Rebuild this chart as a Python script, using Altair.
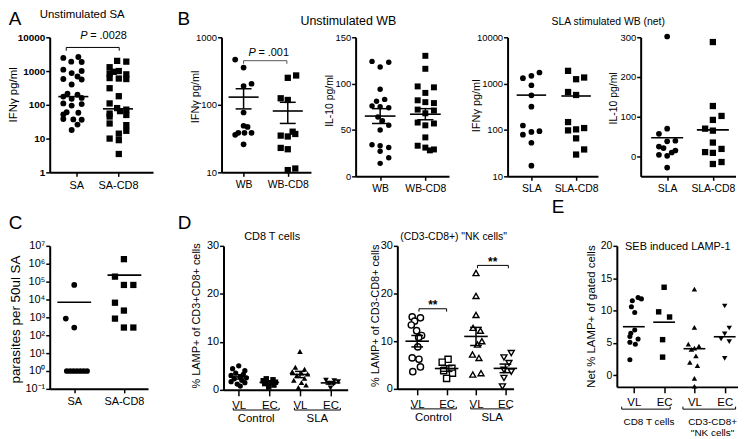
import altair as alt
import pandas as pd

FONT = "Liberation Sans"

# ---------------- values ----------------
# A  Unstimulated SA : IFN-gamma pg/ml (median lines)
A_CATS = ["SA", "SA-CD8"]
A_SA = [2600, 2450, 1900, 1850, 1100, 1000, 870, 690, 580, 560, 400, 215, 200, 175,
        160, 150, 110, 105, 95, 60, 58, 52, 38, 37, 36, 26, 18]
A_SA_DX = [0.12, -0.24, -0.05, 0.2, -0.24, 0.2, -0.04, 0.1, -0.24, 0.2, -0.04, -0.14, 0.1,
           -0.24, 0.2, -0.04, -0.24, 0.2, -0.04, -0.16, 0.12, -0.24, -0.24, 0.0, 0.2, 0.1, -0.04]
A_CD8 = [2000, 1900, 1300, 1000, 950, 850, 800, 620, 600, 580, 310, 180, 110, 80, 72, 65,
         55, 50, 45, 28, 25, 17, 14, 10, 9, 3.5]
A_CD8_DX = [-0.02, 0.2, -0.2, 0.02, -0.1, -0.2, 0.2, -0.2, 0.02, 0.2, -0.2, 0.02, -0.2,
            -0.02, 0.2, 0.05, -0.2, 0.2, -0.2, -0.2, 0.2, 0.2, 0.02, -0.2, 0.02, 0.02]
A_MED = [175, 76]
A_TICKS = [1, 10, 100, 1000, 10000]

# B  Unstimulated WB : IFN-gamma (mean +/- SEM)
B1_CATS = ["WB", "WB-CD8"]
B1_WB = [467, 356, 205, 190, 77, 49, 47, 38.5, 38.5, 38.5, 36, 26]
B1_WB_DX = [-0.19, 0.0, 0.18, 0.0, 0.0, 0.0, 0.09, -0.12, 0.02, 0.18, -0.19, 0.0]
B1_CD8 = [272, 251, 125, 118, 40, 37, 35, 34, 23, 22, 11.4, 10.8]
B1_CD8_DX = [0.19, 0.0, -0.16, 0.0, 0.11, 0.17, -0.16, 0.0, -0.16, 0.0, 0.17, 0.0]
B1_MEAN = [130, 81]
B1_SEM = [43, 28]
B1_TICKS = [10, 100, 1000]

# B  Unstimulated WB : IL-10 (mean +/- SEM)
B2_WB = [124, 123, 118, 94, 83, 81, 76, 75, 74, 64, 60, 55, 50, 34, 33, 31, 27, 20, 14]
B2_WB_DX = [-0.18, 0.19, 0.0, 0.0, 0.1, -0.08, -0.18, 0.0, 0.19, -0.05, 0.05, 0.19, 0.0,
            -0.18, 0.0, 0.19, 0.0, 0.19, 0.0]
B2_CD8 = [130, 116, 97, 96, 90, 82, 80, 79, 72, 71, 68, 58, 57, 55, 42, 33, 31, 29, 28]
B2_CD8_DX = [0.0, 0.0, -0.17, 0.19, 0.0, -0.17, 0.0, 0.19, -0.17, 0.19, 0.0, -0.17, 0.19,
             0.0, 0.0, -0.17, 0.0, 0.19, 0.1]
B2_MEAN = [65, 67]
B2_SEM = [8, 6]
B2_TICKS = [0, 50, 100, 150]

# B  SLA stimulated WB (net)
B3_CATS = ["SLA", "SLA-CD8"]
B3_SLA = [1740, 1470, 1310, 923, 560, 318, 125, 94, 91, 79, 53, 17]
B3_SLA_DX = [0.18, 0.0, -0.19, 0.0, 0.0, 0.0, -0.19, 0.18, 0.0, -0.19, 0.0, 0.0]
B3_CD8 = [1888, 1355, 1245, 660, 569, 148, 110, 103, 98, 66, 38, 29.5]
B3_CD8_DX = [-0.18, 0.18, 0.0, -0.18, 0.0, -0.18, 0.18, 0.0, -0.18, 0.0, 0.18, 0.0]
B3_MEAN = [565, 541]
B3_TICKS = [10, 100, 1000, 10000]

B4_SLA = [302, 70, 57, 39.5, 38, 25, 21, 15, 10, 4, 1.7, -28]
B4_SLA_DX = [0.0, 0.0, -0.18, 0.18, 0.0, -0.18, -0.08, 0.18, 0.1, -0.18, 0.0, 0.0]
B4_CD8 = [288, 127, 102, 92, 70, 65, 35, 19, 11, 9, -14, -19]
B4_CD8_DX = [0.0, 0.0, 0.19, 0.0, -0.17, 0.0, 0.0, 0.19, -0.17, 0.0, 0.19, 0.0]
B4_MEAN = [47, 67]
B4_TICKS = [0, 100, 200, 300]

# C  parasites per 50ul SA
C_CATS = ["SA", "SA-CD8"]
C_SA = [65000, 850, 270, 1, 1, 1, 1, 1, 1, 1]
C_SA_DX = [0.0, -0.17, 0.0, -0.15, -0.082, -0.014, 0.054, 0.122, 0.19, 0.258]
C_CD8 = [1.8e6, 1.9e5, 6.5e4, 6.5e4, 6600, 2400, 850, 270, 270]
C_CD8_DX = [0.0, -0.18, 0.0, 0.19, -0.18, 0.0, -0.18, 0.0, 0.19]
C_MEAN = [7000, 2.3e5]
C_TICKS = [0.1, 1, 10, 100, 1000, 1e4, 1e5, 1e6, 1e7]
C_LABELS = ["10⁻¹", "10⁰", "10¹", "10²", "10³", "10⁴", "10⁵", "10⁶", "10⁷"]

# D  % LAMP+ (mean +/- SEM)
D_CATS = ["VL", "EC", "VL", "EC"]
D_GROUPS = ["Control", "SLA"]
D1_VLC = [5.0, 4.4, 4.0, 3.5, 3.2, 3.0, 2.7, 2.5, 2.3, 2.0, 1.7, 1.5, 1.2, 0.8]
D1_VLC_DX = [0.0, -0.2, 0.2, -0.1, 0.15, -0.25, 0.05, 0.25, -0.15, 0.1, -0.25, 0.2, -0.05, 0.05]
D1_ECC = [2.3, 2.1, 1.9, 1.6, 1.5, 1.3, 1.0, 0.6]
D1_ECC_DX = [-0.1, 0.12, -0.2, 0.2, 0.0, -0.15, 0.15, -0.02]
D1_VLS = [8.0, 4.7, 4.3, 3.8, 3.5, 3.3, 3.0, 2.4, 2.0, 1.5, 1.0, 0.5]
D1_VLS_DX = [0.0, -0.15, 0.15, -0.25, 0.05, 0.25, -0.1, 0.15, -0.2, 0.05, 0.2, -0.05]
D1_ECS = [2.0, 1.9, 1.7, 1.4, 1.2, 0.4]
D1_ECS_DX = [-0.15, 0.12, 0.25, -0.05, 0.1, 0.0]
D1_MEAN = [2.7, 1.55, 3.2, 1.45]
D1_SEM = [0.45, 0.2, 0.65, 0.25]

D2_VLC = [15.1, 14.9, 14.2, 13.4, 12.2, 11.2, 10.8, 8.8, 6.5, 6.2, 4.6, 3.6]
D2_VLC_DX = [-0.17, 0.11, -0.09, -0.2, -0.02, 0.15, 0.05, 0.02, -0.17, 0.06, 0.11, -0.15]
D2_ECC = [6.2, 5.6, 4.3, 3.8, 3.3, 2.2]
D2_ECC_DX = [0.05, -0.15, 0.18, -0.1, 0.2, 0.0]
D2_VLS = [24.3, 19.5, 15.5, 12.8, 12.2, 10.0, 9.3, 7.2, 6.5, 3.3, 3.0]
D2_VLS_DX = [0.0, 0.0, 0.0, -0.1, 0.15, 0.2, 0.05, -0.12, 0.1, 0.17, -0.11]
D2_ECS = [7.5, 6.6, 5.4, 4.0, 3.6, 2.3, 0.5]
D2_ECS_DX = [0.2, -0.05, 0.12, -0.05, 0.2, -0.05, -0.1]
D2_MEAN = [10.0, 4.27, 11.0, 4.3]
D2_SEM = [1.2, 0.6, 1.9, 0.9]
D_TICKS = [0, 10, 20, 30]

# E  SEB induced LAMP-1 (mean lines)
E_CATS = ["VL", "EC", "VL", "EC"]
E_CD8VL = [12.0, 11.8, 11.5, 10.6, 9.7, 7.0, 6.5, 6.0, 5.6, 5.1, 4.8, 2.4]
E_CD8VL_DX = [0.14, 0.25, -0.05, -0.08, 0.03, 0.03, -0.1, -0.13, 0.14, -0.13, 0.05, -0.13]
E_CD8EC = [13.6, 9.8, 9.0, 5.5, 2.8]
E_CD8EC_DX = [0.0, -0.18, 0.18, -0.05, -0.05]
E_NKVL = [13.3, 7.4, 4.8, 4.5, 4.2, 4.0, 3.0, 2.0, 1.5, -0.5, -1.7]
E_NKVL_DX = [0.0, 0.0, -0.2, 0.15, 0.0, -0.1, 0.05, -0.15, 0.1, 0.0, 0.0]
E_NKEC = [10.7, 7.3, 6.4, 5.6, 5.2, 2.6]
E_NKEC_DX = [0.0, 0.15, 0.0, -0.12, 0.15, 0.0]
E_MEAN = [7.5, 8.2, 4.1, 5.95]
E_TICKS = [0, 5, 10, 15, 20]


# ---------------- helpers ----------------
def xs(dom):
    return alt.Scale(domain=dom, nice=False, zero=False)


def ys(dom, log):
    if log:
        return alt.Scale(type="log", domain=dom, nice=False)
    return alt.Scale(domain=dom, nice=False, zero=False)


def xaxis(cats, size, tick=4, pad=3):
    arr = "[''," + ",".join("'" + c + "'" for c in cats) + "]"
    return alt.Axis(values=list(range(1, len(cats) + 1)), labelExpr=arr + "[datum.value]",
                    title=None, labelFontSize=size, labelFlush=False, labelOverlap=False,
                    labelPadding=pad, tickSize=tick, tickWidth=1.5, domainWidth=2)


def yaxis(values, title, tx, ty, tsize, lsize, bold=False, expr=None):
    kw = dict(values=values, title=title, titleX=tx, titleY=ty, titleAngle=270,
              titleAlign="center", titleBaseline="middle", titleFontSize=tsize,
              titleFontWeight="normal", labelFontSize=lsize, labelFlush=False,
              labelOverlap=False, tickSize=4, labelPadding=1, domainWidth=2, tickWidth=1.5)
    if bold:
        kw["labelFontWeight"] = "bold"
    if expr:
        kw["labelExpr"] = expr
    else:
        kw["format"] = "d"
    return alt.Axis(**kw)


class Panel:
    def __init__(self, xdom, ydom, log, xax, yax):
        self.xdom, self.ydom, self.log = xdom, ydom, log
        self.xax, self.yax = xax, yax
        self.layers = []

    def X(self, f):
        return alt.X(f, type="quantitative", scale=xs(self.xdom), axis=self.xax)

    def Y(self, f):
        return alt.Y(f, type="quantitative", scale=ys(self.ydom, self.log), axis=self.yax)

    def points(self, center, vals, dxs, shape, size, filled=True):
        df = pd.DataFrame({"x": [center + d for d in dxs], "y": vals})
        if filled:
            m = alt.Chart(df).mark_point(shape=shape, size=size, filled=True,
                                         color="black", opacity=1)
        else:
            m = alt.Chart(df).mark_point(shape=shape, size=size, filled=False, fill="white",
                                         fillOpacity=1, stroke="black", strokeWidth=1.4,
                                         opacity=1)
        self.layers.append(m.encode(x=self.X("x"), y=self.Y("y")))

    def hlines(self, centers, vals, hw, w=1.6):
        df = pd.DataFrame({"x": [c - hw for c in centers], "x2": [c + hw for c in centers],
                           "y": vals})
        self.layers.append(alt.Chart(df).mark_rule(color="black", strokeWidth=w).encode(
            x=self.X("x"), x2=alt.X2("x2"), y=self.Y("y")))

    def errbars(self, centers, means, sems, cap, w=1.5):
        df = pd.DataFrame({"x": centers,
                           "y": [m - s for m, s in zip(means, sems)],
                           "y2": [m + s for m, s in zip(means, sems)]})
        cdf = pd.DataFrame({"x": [c - cap for c in centers] * 2,
                            "x2": [c + cap for c in centers] * 2,
                            "y": [m - s for m, s in zip(means, sems)]
                            + [m + s for m, s in zip(means, sems)]})
        self.layers.append(alt.Chart(df).mark_rule(color="black", strokeWidth=w).encode(
            x=self.X("x"), y=self.Y("y"), y2=alt.Y2("y2")))
        self.layers.append(alt.Chart(cdf).mark_rule(color="black", strokeWidth=w).encode(
            x=self.X("x"), x2=alt.X2("x2"), y=self.Y("y")))

    def bracket(self, x1, x2, yline, yend, color="black", w=1.0):
        df = pd.DataFrame({"x": [x1, x1, x2, x2], "y": [yend, yline, yline, yend],
                           "o": [0, 1, 2, 3]})
        self.layers.append(alt.Chart(df).mark_line(color=color, strokeWidth=w).encode(
            x=self.X("x"), y=self.Y("y"), order="o:Q"))

    def dtext(self, x, y, t, size, **kw):
        df = pd.DataFrame({"x": [x], "y": [y], "t": [t]})
        self.layers.append(alt.Chart(df).mark_text(fontSize=size, font=FONT, color="black",
                                                   **kw).encode(
            x=self.X("x"), y=self.Y("y"), text="t:N"))

    def ptext(self, px, py, t, size, **kw):
        df = pd.DataFrame({"t": [t]})
        self.layers.append(alt.Chart(df).mark_text(fontSize=size, font=FONT, color="black",
                                                   **kw).encode(
            x=alt.value(px), y=alt.value(py), text="t:N"))

    def chart(self, w, h):
        return alt.layer(*self.layers).properties(width=w, height=h)


def spacer(w):
    return (alt.Chart(pd.DataFrame({"s": [0]})).mark_point(opacity=0)
            .encode(x=alt.value(0), y=alt.value(0)).properties(width=w, height=10))


# ---------------- Row 1 ----------------
pa = Panel([0.364, 2.84], [1, 10000], True, xaxis(A_CATS, 11),
           yaxis(A_TICKS, "IFNγ pg/ml", -36, 57.5, 11.5, 10, bold=True))
pa.points(0.93, A_SA, A_SA_DX, "circle", 35)
pa.points(2, A_CD8, A_CD8_DX, "square", 40)
pa.hlines([0.93, 2.0], A_MED, 0.36)
pa.bracket(0.76, 2.03, 5000, 4000)
pa.dtext(1.095, 11000, "P", 11, align="left", fontStyle="italic")
pa.dtext(1.095, 11000, "= .0028", 11, align="left", dx=10)
pa.ptext(-41.3, -18.5, "A", 19, align="left")
pa.ptext(32.7, -22, "Unstimulated SA", 11.5)
chA = pa.chart(104, 136)

pb1 = Panel([0.501, 2.524], [10, 1000], True, xaxis(B1_CATS, 10.5),
            yaxis(B1_TICKS, "IFNγ pg/ml", -26.5, 59.5, 11, 9.5))
pb1.points(1, B1_WB, B1_WB_DX, "circle", 33)
pb1.points(2, B1_CD8, B1_CD8_DX, "square", 40)
pb1.hlines([1, 2], B1_MEAN, 0.34)
pb1.errbars([1, 2], B1_MEAN, B1_SEM, 0.18)
pb1.bracket(1.0, 1.98, 450, 405, color="#555555")
pb1.dtext(1.11, 583, "P", 11, align="left", fontStyle="italic")
pb1.dtext(1.11, 583, "= .001", 11, align="left", dx=10)
pb1.ptext(-44.3, -18.5, "B", 19, align="left")
pb1.ptext(127.7, -16, "Unstimulated WB", 12.5)
chB1 = pb1.chart(90, 136)

pb2 = Panel([0.457, 2.523], [0, 150], False, xaxis(B1_CATS, 10.5),
            yaxis(B2_TICKS, "IL-10 pg/ml", -26, 63.5, 10.5, 9.5))
pb2.points(1, B2_WB, B2_WB_DX, "circle", 30)
pb2.points(2, B2_CD8, B2_CD8_DX, "square", 36)
pb2.hlines([1, 2], B2_MEAN, 0.34)
pb2.errbars([1, 2], B2_MEAN, B2_SEM, 0.18)
chB2 = pb2.chart(94, 140)

pb3 = Panel([0.467, 2.489], [10, 10000], True, xaxis(B3_CATS, 10.5),
            yaxis(B3_TICKS, "IFNγ pg/ml", -31.5, 68.5, 11, 9.5))
pb3.points(1, B3_SLA, B3_SLA_DX, "circle", 33)
pb3.points(2, B3_CD8, B3_CD8_DX, "square", 40)
pb3.hlines([1, 2], B3_MEAN, 0.33)
pb3.ptext(101.4, -15, "SLA stimulated WB (net)", 10.5)
chB3 = pb3.chart(91, 140)

pb4 = Panel([0.42, 2.496], [-50, 300], False, xaxis(B3_CATS, 10.5),
            yaxis(B4_TICKS, "IL-10 pg/ml", -27, 61, 10.5, 9.5))
pb4.points(1, B4_SLA, B4_SLA_DX, "circle", 33)
pb4.points(2, B4_CD8, B4_CD8_DX, "square", 40)
pb4.hlines([1, 2], B4_MEAN, 0.35)
chB4 = pb4.chart(95.5, 140)

row1 = alt.hconcat(chA, spacer(69), chB1, spacer(45), chB2, spacer(59), chB3,
                   spacer(42.5), chB4, spacing=0, bounds="flush")

# ---------------- Row 2 ----------------
c_expr = "[" + ",".join("'" + s + "'" for s in C_LABELS) + "][round(log(datum.value)/LN10)+1]"
pc = Panel([0.506, 2.486], [0.1, 1e7], True, xaxis(C_CATS, 11),
           yaxis(C_TICKS, "parasites per 50ul SA", -34.3, 73.7, 13.5, 11, expr=c_expr))
pc.points(1, C_SA, C_SA_DX, "circle", 33)
pc.points(2, C_CD8, C_CD8_DX, "square", 40)
pc.hlines([1, 2.01], C_MEAN, 0.34)
pc.ptext(-41.3, -23.3, "C", 19, align="left")
chC = pc.chart(99, 144)

pd1 = Panel([0.503, 4.56], [0, 30], False, xaxis(D_CATS, 11.5, tick=6, pad=4),
            yaxis(D_TICKS, "% LAMP+ of CD3+CD8+ cells", -27, 70, 11, 11))
pd1.points(1, D1_VLC, D1_VLC_DX, "circle", 28)
pd1.points(2, D1_ECC, D1_ECC_DX, "square", 30)
pd1.points(3, D1_VLS, D1_VLS_DX, "triangle-up", 32)
pd1.points(4, D1_ECS, D1_ECS_DX, "triangle-down", 32)
pd1.hlines([1, 2, 3, 4], D1_MEAN, 0.32)
pd1.errbars([1, 2, 3, 4], D1_MEAN, D1_SEM, 0.16)
pd1.bracket(0.82, 2.32, -4.2, -3.75)
pd1.bracket(2.82, 4.32, -4.2, -3.75)
pd1.dtext(1.57, -6.1, D_GROUPS[0], 11.5)
pd1.dtext(3.57, -6.1, D_GROUPS[1], 11.5)
pd1.ptext(-46, -23.3, "D", 19, align="left")
pd1.ptext(49, -9.3, "CD8 T cells", 11)
chD1 = pd1.chart(125, 145)

pd2 = Panel([0.324, 4.277], [0, 30], False, xaxis(D_CATS, 11.5, tick=6, pad=4),
            yaxis(D_TICKS, "% LAMP+ of CD3-CD8+ cells", -21.6, 70, 11, 11))
pd2.points(1, D2_VLC, D2_VLC_DX, "circle", 40, filled=False)
pd2.points(2, D2_ECC, D2_ECC_DX, "square", 38, filled=False)
pd2.points(3, D2_VLS, D2_VLS_DX, "triangle-up", 36, filled=False)
pd2.points(4, D2_ECS, D2_ECS_DX, "triangle-down", 36, filled=False)
pd2.hlines([1, 2, 3, 4], D2_MEAN, 0.4)
pd2.errbars([1, 2, 3, 4], D2_MEAN, D2_SEM, 0.2)
pd2.bracket(1.06, 2.0, 16.8, 16.2)
pd2.dtext(1.53, 17.6, "**", 12, fontWeight="bold")
pd2.bracket(3.05, 4.1, 25.9, 25.3)
pd2.dtext(3.57, 26.7, "**", 12, fontWeight="bold")
pd2.bracket(0.8, 2.33, -4.2, -3.75)
pd2.bracket(2.82, 4.15, -4.2, -3.75)
pd2.dtext(1.55, -6.1, D_GROUPS[0], 11.5)
pd2.dtext(3.55, -6.1, D_GROUPS[1], 11.5)
pd2.ptext(56.7, -9.3, '(CD3-CD8+) "NK cells"', 10.5)
chD2 = pd2.chart(117, 144)

pe = Panel([0.439, 4.439], [-1.8, 20], False, xaxis(E_CATS, 11.5, tick=6, pad=4),
           yaxis(E_TICKS, "Net % LAMP+ of gated cells", -25.3, 70.7, 11.5, 10.5))
pe.points(1, E_CD8VL, E_CD8VL_DX, "circle", 26)
pe.points(2, E_CD8EC, E_CD8EC_DX, "square", 30)
pe.points(3, E_NKVL, E_NKVL_DX, "triangle-up", 30)
pe.points(4, E_NKEC, E_NKEC_DX, "triangle-down", 30)
pe.hlines([1, 2, 3, 4], E_MEAN, 0.36)
pe.bracket(0.6, 2.2, -5.24, -4.85)
pe.bracket(2.62, 4.36, -5.24, -4.85)
pe.dtext(1.5, -7.3, "CD8 T cells", 10)
pe.dtext(3.6, -7.3, "CD3-CD8+", 10)
pe.dtext(3.6, -8.9, '"NK cells"', 10)
pe.ptext(-65.6, -39.3, "E", 19, align="left")
pe.ptext(61.4, 0.7, "SEB induced LAMP-1", 11)
chE = pe.chart(122, 142)

row2 = alt.hconcat(chC, spacer(75.7), chD1, spacer(49.3), chD2, spacer(103.3), chE,
                   spacing=0, bounds="flush")

chart = (alt.vconcat(row1, row2, spacing=3)
         .properties(padding=0)
         .configure(font=FONT)
         .configure_view(stroke=None)
         .configure_axis(domainColor="black", tickColor="black", labelColor="black",
                         titleColor="black", grid=False, labelFont=FONT, titleFont=FONT))

chart.save("out.html", embed_options={"renderer": "svg", "actions": False})
